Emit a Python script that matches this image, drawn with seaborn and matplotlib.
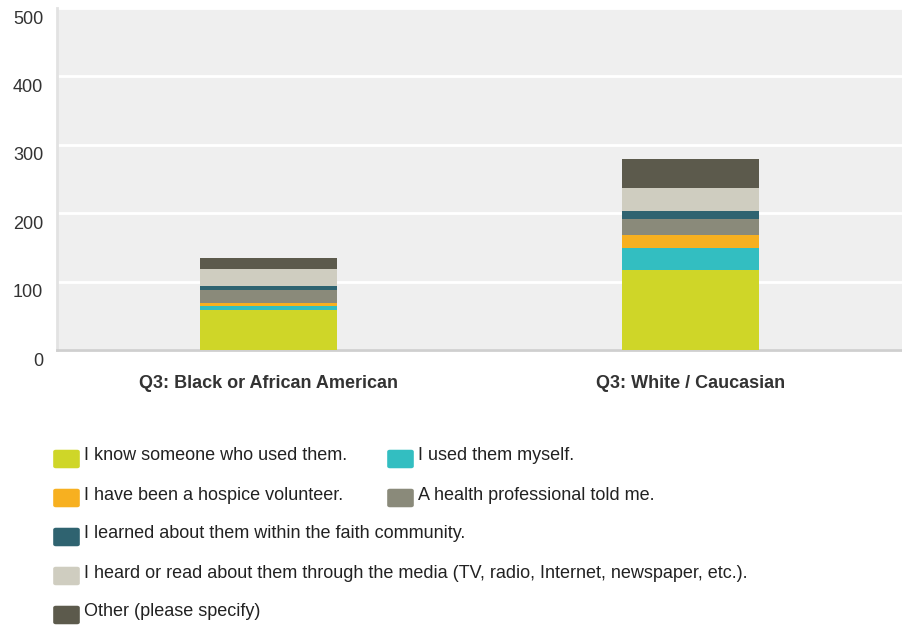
import matplotlib
matplotlib.use("Agg")
import matplotlib.pyplot as plt
import matplotlib.transforms as mtransforms
from matplotlib.patches import FancyBboxPatch
import seaborn as sns
import pandas as pd
import numpy as np

categories = ["Q3: Black or African American", "Q3: White / Caucasian"]
series_names = [
    "I know someone who used them.",
    "I used them myself.",
    "I have been a hospice volunteer.",
    "A health professional told me.",
    "I learned about them within the faith community.",
    "I heard or read about them through the media (TV, radio, Internet, newspaper, etc.).",
    "Other (please specify)",
]
know_someone = [58, 117]
used_myself = [6, 32]
hospice_volunteer = [4, 19]
health_professional = [20, 23]
faith_community = [5, 12]
media = [25, 34]
other = [17, 42]
series_values = [know_someone, used_myself, hospice_volunteer, health_professional,
                 faith_community, media, other]
colors = ["#cfd628", "#33bec1", "#f7b020", "#8a8a7a", "#2f6370", "#cfcdc0", "#5c5a4c"]
y_ticks = [0, 100, 200, 300, 400, 500]

sns.set_theme(style="white")
plt.rcParams['font.family'] = ['Liberation Sans', 'DejaVu Sans']

W, H = 902, 629
fig = plt.figure(figsize=(W / 100, H / 100), dpi=100)
ax = fig.add_axes([57 / W, (H - 350) / H, (W - 57) / W, 342 / H])
ax.set_facecolor("#efefef")

cum = np.cumsum(np.array(series_values), axis=0)
for i in reversed(range(len(series_values))):
    df = pd.DataFrame({"cat": categories, "val": cum[i]})
    sns.barplot(data=df, x="cat", y="val", color=colors[i], width=0.325,
                saturation=1, ax=ax, linewidth=0, edgecolor="none", zorder=3)

ax.set_ylim(0, 500)
ax.set_xlim(-0.5, 1.5)
ax.set_yticks(y_ticks)
ax.set_yticklabels([str(t) for t in y_ticks], fontsize=13, color="#333333")
ax.yaxis.grid(True, color="white", linewidth=2, zorder=1)
ax.set_axisbelow(True)
ax.tick_params(axis="y", length=0, pad=10)
ax.tick_params(axis="x", length=0, pad=18)
ax.set_xlabel("")
ax.set_ylabel("")
ax.set_xticks([0, 1])
ax.set_xticklabels(categories, fontsize=13, fontweight="bold", color="#333333")

offset = mtransforms.ScaledTranslation(0, -9 / 100, fig.dpi_scale_trans)
for lbl in ax.get_yticklabels():
    lbl.set_transform(lbl.get_transform() + offset)

for s in ["top", "right"]:
    ax.spines[s].set_visible(False)
ax.spines["left"].set_color("#e2e2e2")
ax.spines["left"].set_linewidth(2)
ax.spines["bottom"].set_color("#cfcfcf")
ax.spines["bottom"].set_linewidth(2)

# legend (manual layout)
positions = [(53, 459), (387, 459), (53, 498), (387, 498), (53, 537), (53, 576), (53, 615)]
for (px, py), name, c in zip(positions, series_names, colors):
    x0 = px / W
    y0 = (H - py - 10) / H
    patch = FancyBboxPatch((x0 + 2 / W, y0 + 2 / H), 23 / W, 16 / H,
                           boxstyle="round,pad=0.002,rounding_size=0.003",
                           transform=fig.transFigure, facecolor=c, edgecolor="none")
    fig.patches.append(patch)
    fig.text((px + 31) / W, (H - py + 3) / H, name, fontsize=13, color="#222222",
             va="center", ha="left")

fig.savefig("out.png", dpi=100)
